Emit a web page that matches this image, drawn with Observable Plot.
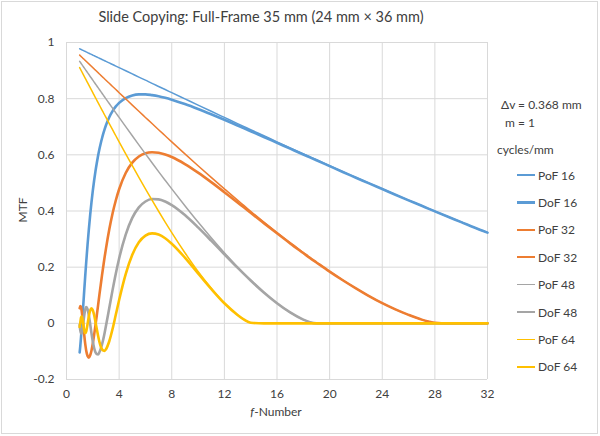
<!DOCTYPE html>
<html>
<head>
<meta charset="utf-8">
<script src="https://cdn.jsdelivr.net/npm/d3@7"></script>
<script src="https://cdn.jsdelivr.net/npm/@observablehq/plot@0.6"></script>
<style>
  html, body { margin: 0; padding: 0; background: #fff; }
  #chart { position: relative; width: 600px; height: 436px; font-family: Lato, "Open Sans", sans-serif; color: #404040; }
  #chart svg { position: absolute; left: 0; top: 0; }
  .frame { position: absolute; left: 1px; top: 1px; width: 597px; height: 433px; border: 1px solid #d9d9d9; box-sizing: border-box; }
  .title { position: absolute; left: 0; width: 522px; top: 8px; text-align: center; font-size: 14.5px; }
  .ylab { position: absolute; left: 22px; top: 210px; transform: translate(-50%, -50%) rotate(-90deg); font-size: 12px; white-space: nowrap; }
  .xlab { position: absolute; left: 276px; top: 404px; transform: translateX(-50%); font-size: 12px; white-space: nowrap; }
  .note { position: absolute; font-size: 12px; white-space: nowrap; }
  .leg { position: absolute; left: 517px; font-size: 12px; white-space: nowrap; display: flex; align-items: center; height: 16px; }
  .leg span.sw { display: inline-block; width: 18px; margin-right: 3px; }
</style>
</head>
<body>
<div id="chart"></div>
<script>
// ---- data ----
const fNumber = [1,1.05,1.1,1.15,1.2,1.25,1.3,1.35,1.4,1.45,1.5,1.6,1.7,1.8,1.9,2,2.1,2.2,2.3,2.4,2.5,2.6,2.7,2.8,2.9,3,3.25,3.5,3.75,4,4.5,5,5.5,6,6.5,7,7.5,8,9,10,11,12,13,13.5,14,15,16,17,18,18.5,19,20,21,22,23,24,25,26,27,27.5,28,29,30,31,32];

const pof16 = [.9776,.9765,.9754,.9743,.9731,.9720,.9709,.9698,.9687,.9675,.9664,.9642,.9619,.9597,.9575,.9552,.9530,.9507,.9485,.9463,.9440,.9418,.9396,.9373,.9351,.9329,.9273,.9217,.9161,.9105,.8993,.8881,.8769,.8658,.8544,.8435,.8325,.8213,.7992,.7771,.7551,.7332,.7113,.7004,.6895,.6679,.6463,.6248,.6035,.5930,.5825,.5613,.5401,.5197,.4991,.4788,.4585,.4385,.4189,.4089,.3991,.3797,.3606,.3413,.3231];
const dof16 = [-.1035,-.0799,-.0514,-.0203,.0128,.0484,.0828,.1185,.1524,.1864,.2184,.2798,.3357,.3860,.4316,.4723,.5086,.5413,.5702,.5964,.6200,.6406,.6591,.6761,.6917,.7055,.7339,.7556,.7724,.7852,.8023,.8115,.8152,.8154,.8127,.8087,.8030,.7963,.7807,.7631,.7443,.7248,.7046,.6945,.6842,.6636,.6428,.6220,.6012,.5909,.5806,.5597,.5388,.5186,.4982,.4781,.4579,.4380,.4185,.4085,.3987,.3794,.3604,.3411,.3229];
const pof32 = [.9552,.9530,.9507,.9485,.9463,.9440,.9418,.9396,.9373,.9351,.9329,.9284,.9239,.9194,.9150,.9105,.9060,.9015,.8971,.8926,.8881,.8836,.8791,.8747,.8703,.8658,.8547,.8436,.8325,.8213,.7992,.7771,.7551,.7332,.7113,.6895,.6679,.6463,.6036,.5613,.5197,.4788,.4385,.4189,.3991,.3606,.3231,.2865,.2514,.2340,.2174,.1846,.1538,.1247,.0972,.0719,.0497,.0301,.0132,.0069,.0021,0,0,0,0];
const dof32 = [.0540,.0614,.0574,.0451,.0265,.0044,-.0192,-.0423,-.0639,-.0821,-.0978,-.1163,-.1222,-.1137,-.0968,-.0720,-.0413,-.0075,.0278,.0641,.1011,.1362,.1715,.2043,.2365,.2661,.3339,.3910,.4384,.4775,.5354,.5723,.5943,.6058,.6094,.6075,.6014,.5921,.5671,.5365,.5027,.4670,.4304,.4122,.3935,.3568,.3205,.2848,.2503,.2331,.2167,.1842,.1535,.1246,.0971,.0719,.0497,.0301,.0132,.0069,.0021,0,0,0,0];
const pof48 = [.9328,.9295,.9261,.9228,.9194,.9161,.9127,.9094,.9060,.9027,.8993,.8926,.8859,.8791,.8725,.8658,.8591,.8524,.8458,.8391,.8325,.8258,.8191,.8124,.8058,.7992,.7826,.7661,.7496,.7332,.7004,.6679,.6356,.6036,.5719,.5401,.5093,.4788,.4189,.3606,.3048,.2514,.2009,.1769,.1538,.1105,.0719,.0390,.0132,.0042,0,0,0,0,0,0,0,0,0,0,0,0,0,0,0];
const dof48 = [-.0058,-.0251,-.0357,-.0349,-.0246,-.0079,.0108,.0289,.0436,.0532,.0579,.0503,.0276,-.0032,-.0356,-.0649,-.0877,-.1027,-.1094,-.1106,-.1031,-.0912,-.0750,-.0560,-.0332,-.0088,.0545,.1182,.1778,.2309,.3162,.3753,.4129,.4339,.4425,.4414,.4339,.4212,.3856,.3416,.2943,.2458,.1981,.1750,.1525,.1100,.0717,.0389,.0132,.0042,0,0,0,0,0,0,0,0,0,0,0,0,0,0,0];
const pof64 = [.9105,.9060,.9015,.8971,.8926,.8881,.8836,.8791,.8747,.8703,.8658,.8569,.8480,.8391,.8302,.8213,.8124,.8036,.7948,.7860,.7771,.7683,.7595,.7507,.7419,.7332,.7113,.6895,.6679,.6463,.6036,.5613,.5197,.4788,.4385,.3991,.3606,.3231,.2514,.1846,.1247,.0719,.0301,.0132,.0021,0,0,0,0,0,0,0,0,0,0,0,0,0,0,0,0,0,0,0,0];
const dof64 = [-.0131,.0036,.0194,.0250,.0186,.0050,-.0116,-.0252,-.0336,-.0346,-.0284,-.0030,.0254,.0463,.0535,.0466,.0296,.0059,-.0197,-.0443,-.0654,-.0822,-.0924,-.0971,-.0979,-.0922,-.0638,-.0203,.0313,.0829,.1753,.2440,.2885,.3125,.3203,.3160,.3029,.2836,.2340,.1778,.1225,.0714,.0300,.0132,.0021,0,0,0,0,0,0,0,0,0,0,0,0,0,0,0,0,0,0,0,0];

const seriesNames = ["PoF 16","DoF 16","PoF 32","DoF 32","PoF 48","DoF 48","PoF 64","DoF 64"];
const seriesValues = [pof16, dof16, pof32, dof32, pof48, dof48, pof64, dof64];

const xTicks = [0,4,8,12,16,20,24,28,32];
const xTickLabels = ["0","4","8","12","16","20","24","28","32"];
const yTicks = [-0.2,0,0.2,0.4,0.6,0.8,1];
const yTickLabels = ["-0.2","0","0.2","0.4","0.6","0.8","1"];

const titleText = "Slide Copying: Full-Frame 35 mm (24 mm × 36 mm)";
const notes = ["Δv = 0.368 mm", "m = 1", "cycles/mm"];

// ---- styles ----
const seriesColors = ["#5B9BD5","#5B9BD5","#ED7D31","#ED7D31","#A5A5A5","#A5A5A5","#FFC000","#FFC000"];
const seriesWidths = [1.5,2.6,1.5,2.6,1.5,2.6,1.5,2.6];

const rows = [];
seriesNames.forEach((name, k) => seriesValues[k].forEach((v, i) => rows.push({series: name, f: fNumber[i], mtf: v})));

const plot = Plot.plot({
  width: 600,
  height: 436,
  marginLeft: 66,
  marginRight: 113,
  marginTop: 42,
  marginBottom: 57,
  style: {fontFamily: "Lato, 'Open Sans', sans-serif", fontSize: "12px", color: "#404040", background: "transparent"},
  x: {domain: [0, 32]},
  y: {domain: [-0.2, 1]},
  marks: [
    Plot.gridX(xTicks, {stroke: "#d9d9d9", strokeOpacity: 1}),
    Plot.gridY(yTicks, {stroke: "#d9d9d9", strokeOpacity: 1}),
    Plot.axisX(xTicks, {tickSize: 0, tickPadding: 10, label: null, tickFormat: (d, i) => xTickLabels[xTicks.indexOf(d)], fontSize: 12}),
    Plot.axisY(yTicks, {tickSize: 0, tickPadding: 12, label: null, tickFormat: (d) => yTickLabels[yTicks.indexOf(d)], fontSize: 12}),
    ...seriesNames.map((name, k) => Plot.line(rows.filter(r => r.series === name), {
      x: "f", y: "mtf", stroke: seriesColors[k], strokeWidth: seriesWidths[k], curve: "monotone-x"
    }))
  ]
});

const chart = document.getElementById("chart");
const frame = document.createElement("div"); frame.className = "frame"; chart.appendChild(frame);
chart.appendChild(plot);

const t = document.createElement("div"); t.className = "title"; t.textContent = titleText; chart.appendChild(t);
const yl = document.createElement("div"); yl.className = "ylab"; yl.textContent = "MTF"; chart.appendChild(yl);
const xl = document.createElement("div"); xl.className = "xlab"; xl.innerHTML = "<i>f</i>-Number"; chart.appendChild(xl);

const notePos = [[501, 97], [505, 115], [497, 142]];
notes.forEach((n, i) => {
  const d = document.createElement("div"); d.className = "note";
  d.style.left = notePos[i][0] + "px"; d.style.top = notePos[i][1] + "px";
  d.textContent = n; chart.appendChild(d);
});

seriesNames.forEach((name, k) => {
  const d = document.createElement("div"); d.className = "leg";
  d.style.top = (167 + k * 27.4) + "px";
  const sw = document.createElement("span"); sw.className = "sw";
  sw.style.height = seriesWidths[k] + "px"; sw.style.background = seriesColors[k];
  d.appendChild(sw);
  const tx = document.createElement("span"); tx.textContent = name; d.appendChild(tx);
  chart.appendChild(d);
});
</script>
</body>
</html>
